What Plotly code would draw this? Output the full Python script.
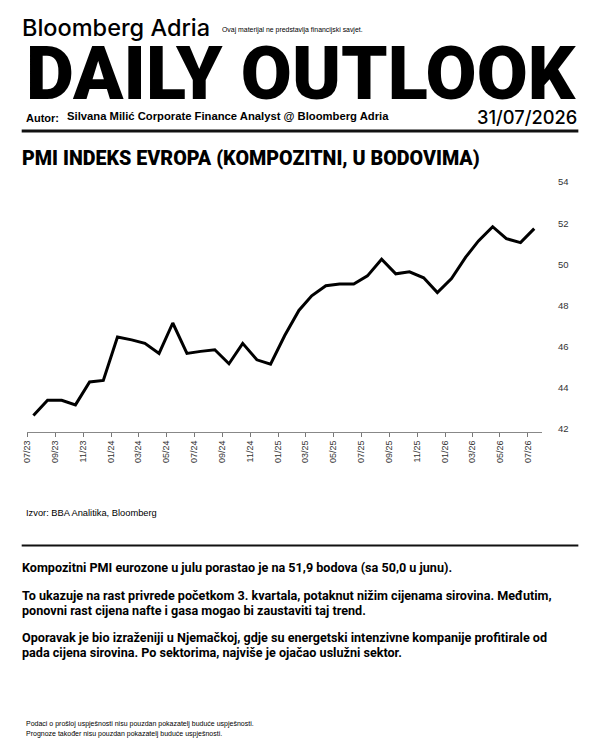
import plotly.graph_objects as go

# ---------------- data ----------------
months = [
    "2023-07-15", "2023-08-15", "2023-09-15", "2023-10-15", "2023-11-15", "2023-12-15",
    "2024-01-15", "2024-02-15", "2024-03-15", "2024-04-15", "2024-05-15", "2024-06-15",
    "2024-07-15", "2024-08-15", "2024-09-15", "2024-10-15", "2024-11-15", "2024-12-15",
    "2025-01-15", "2025-02-15", "2025-03-15", "2025-04-15", "2025-05-15", "2025-06-15",
    "2025-07-15", "2025-08-15", "2025-09-15", "2025-10-15", "2025-11-15", "2025-12-15",
    "2026-01-15", "2026-02-15", "2026-03-15", "2026-04-15", "2026-05-15", "2026-06-15",
    "2026-07-15",
]
pmi = [
    42.65, 43.39, 43.39, 43.17, 44.28, 44.36,
    46.47, 46.33, 46.16, 45.67, 47.15, 45.67,
    45.77, 45.85, 45.17, 46.16, 45.36, 45.15,
    46.54, 47.76, 48.47, 48.96, 49.05, 49.05,
    49.44, 50.25, 49.54, 49.64, 49.35, 48.63,
    49.31, 50.35, 51.14, 51.83, 51.25, 51.06,
    51.74,
]
tick_dates = [
    "2023-07-01", "2023-09-01", "2023-11-01", "2024-01-01", "2024-03-01", "2024-05-01",
    "2024-07-01", "2024-09-01", "2024-11-01", "2025-01-01", "2025-03-01", "2025-05-01",
    "2025-07-01", "2025-09-01", "2025-11-01", "2026-01-01", "2026-03-01", "2026-05-01",
    "2026-07-01",
]
tick_labels = [
    "07/23", "09/23", "11/23", "01/24", "03/24", "05/24", "07/24", "09/24", "11/24",
    "01/25", "03/25", "05/25", "07/25", "09/25", "11/25", "01/26", "03/26", "05/26",
    "07/26",
]
y_ticks = [42, 44, 46, 48, 50, 52, 54]

brand = "Bloomberg Adria"
disclaimer_top = "Ovaj materijal ne predstavlja financijski savjet."
masthead = "DAILY OUTLOOK"
author_label = "Autor:"
author = "Silvana Milić Corporate Finance Analyst @ Bloomberg Adria"
date_text = "31/07/2026"
chart_title = "PMI INDEKS EVROPA (KOMPOZITNI, U BODOVIMA)"
source = "Izvor: BBA Analitika, Bloomberg"
body_lines = [
    "Kompozitni PMI eurozone u julu porastao je na 51,9 bodova (sa 50,0 u junu).",
    "To ukazuje na rast privrede početkom 3. kvartala, potaknut nižim cijenama sirovina. Međutim,",
    "ponovni rast cijena nafte i gasa mogao bi zaustaviti taj trend.",
    "Oporavak je bio izraženiji u Njemačkoj, gdje su energetski intenzivne kompanije profitirale od",
    "pada cijena sirovina. Po sektorima, najviše je ojačao uslužni sektor.",
]
footer_lines = [
    "Podaci o prošloj uspješnosti nisu pouzdan pokazatelj buduće uspješnosti.",
    "Prognoze također nisu pouzdan pokazatelj buduće uspješnosti.",
]

# ---------------- layout geometry ----------------
# The page adds an 8px body margin; positions below are given in page pixels.
W, H = 600, 750
OFF = 8
PL, PR, PT, PB = 27.3, 541.7, 178.0, 432.3   # plot area in page pixels
ML = PL - OFF
MR = W - (PR - OFF)
MT = PT - OFF
MB = H - (PB - OFF)
PW = W - ML - MR
PH = H - MT - MB


def px(x):
    return (x - OFF - ML) / PW


def py(y):
    return (H - MB - (y - OFF)) / PH


fig = go.Figure()
fig.add_trace(go.Scatter(
    x=months, y=pmi, mode="lines",
    line=dict(color="#000000", width=3),
    hoverinfo="skip", showlegend=False,
))

SANS = "Roboto, Liberation Sans, Arial, sans-serif"
ARIAL = "Liberation Sans, Arial, sans-serif"
INTER = "Inter, Roboto, sans-serif"


def txt(x, y, text, size, weight=400, family=SANS, color="#000000", xanchor="left"):
    fig.add_annotation(
        x=px(x), y=py(y), xref="paper", yref="paper", text=text, showarrow=False,
        xanchor=xanchor, yanchor="middle", align="left",
        font=dict(family=family, size=size, color=color, weight=weight),
        borderpad=0,
    )


txt(21, 27, brand, 23.5, 500, INTER)
txt(221, 30, disclaimer_top, 6.9, 400, ARIAL)
txt(578, 73, masthead, 74, 900, "Roboto, sans-serif", xanchor="right")
txt(25, 118, author_label, 11, 700, ARIAL)
txt(66, 115.5, author, 11.25, 700, ARIAL)
txt(578, 117, date_text, 18.3, 500, INTER, xanchor="right")
txt(21, 158.5, chart_title, 19.7, 900, SANS)
txt(25, 513, source, 9.3, 400, ARIAL)
for yy, line in zip([568, 596, 611, 638, 653], body_lines):
    txt(21, yy, line, 12.6, 700, SANS)
for yy, line in zip([725, 735], footer_lines):
    txt(25, yy, line, 7, 400, ARIAL)

for yy, lw in [(131, 3), (546, 2)]:
    fig.add_shape(type="line", xref="paper", yref="paper",
                  x0=px(22), x1=px(578), y0=py(yy), y1=py(yy),
                  line=dict(color="#111111", width=lw))

fig.update_layout(
    width=W, height=H,
    margin=dict(l=ML, r=MR, t=MT, b=MB, autoexpand=False),
    paper_bgcolor="#ffffff", plot_bgcolor="#ffffff",
    showlegend=False,
    xaxis=dict(
        type="date", range=["2023-07-01", "2026-08-01"],
        tickmode="array", tickvals=tick_dates, ticktext=tick_labels,
        tickangle=-90, ticks="outside", ticklen=4, tickwidth=1, tickcolor="#777777",
        showline=True, linecolor="#888888", linewidth=1,
        showgrid=False, zeroline=False,
        tickfont=dict(family=ARIAL, size=9, color="#333333"),
        fixedrange=True,
    ),
    yaxis=dict(
        side="right", range=[41.85, 54.2],
        tickmode="array", tickvals=y_ticks, ticktext=[str(v) for v in y_ticks],
        ticks="", showline=False, showgrid=False, zeroline=False,
        ticklabelstandoff=15,
        tickfont=dict(family=ARIAL, size=9.5, color="#333333"),
        fixedrange=True,
    ),
)

fig.write_html("out.html")
